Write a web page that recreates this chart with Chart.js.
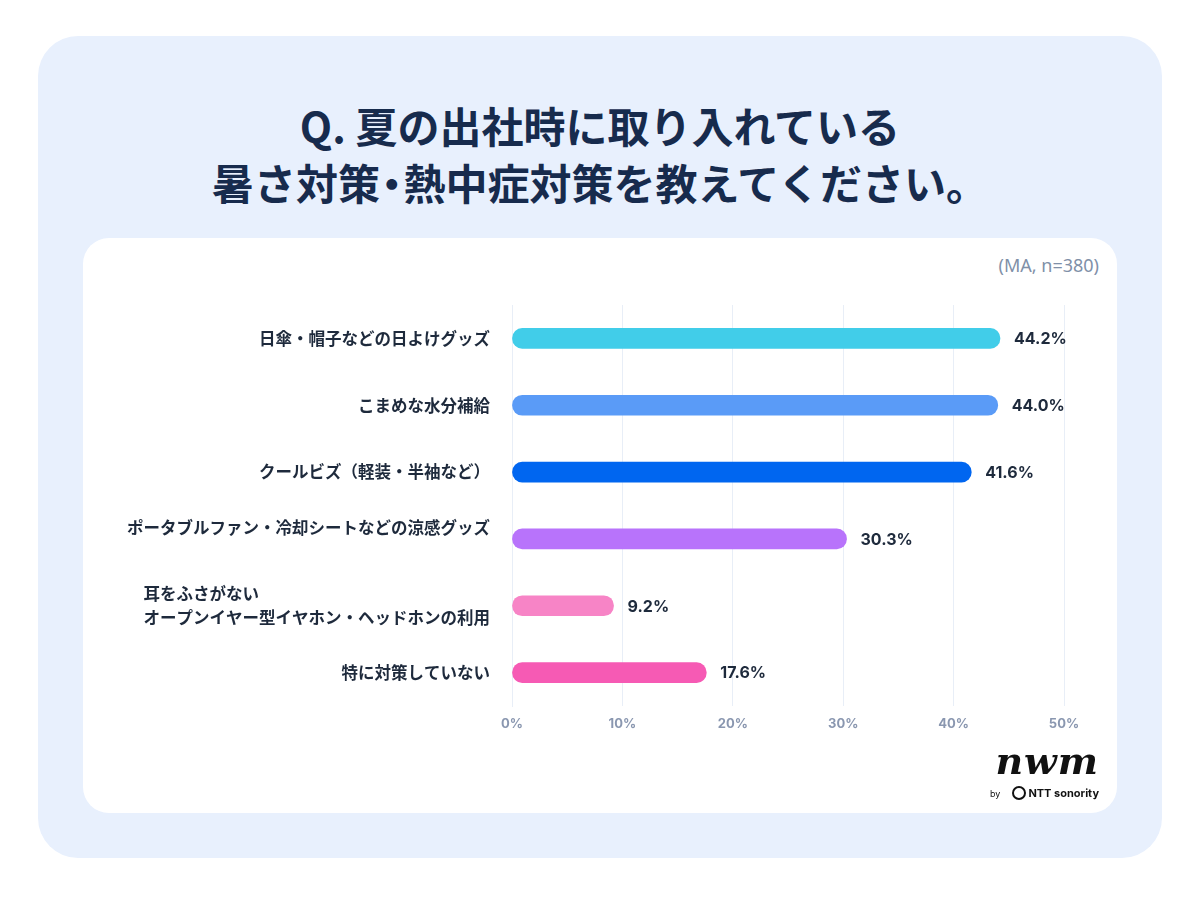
<!DOCTYPE html>
<html lang="ja">
<head>
<meta charset="utf-8">
<script src="https://cdn.jsdelivr.net/npm/chart.js@4"></script>
<style>
  body { margin: 0; width: 1200px; height: 900px; background: #ffffff; font-family: "Noto Sans CJK JP", sans-serif; }
  .outer { position: absolute; left: 38px; top: 36px; width: 1124px; height: 822px; background: #e8f0fd; border-radius: 40px; }
  .title { position: absolute; left: 0; top: 96px; width: 1200px; text-align: center; color: #172b4d; font-weight: 700; font-size: 42px; line-height: 57px; }
  .title .dot { margin: 0 -0.22em; }
  .card { position: absolute; left: 83px; top: 238px; width: 1034px; height: 575px; background: #ffffff; border-radius: 26px; }
  .chart-box { position: absolute; left: 0; top: 0; width: 1034px; height: 575px; }
  .note { position: absolute; right: 18px; top: 15px; font-family: "Noto Sans", sans-serif; font-size: 18px; color: #8090a8; }
  .logo { position: absolute; right: 18px; top: 503px; text-align: right; color: #111; }
  .logo .nwm { font-family: "DejaVu Serif", serif; font-style: italic; font-weight: 700; font-size: 38px; line-height: 40px; letter-spacing: 1px; }
  .logo .by { font-family: "Inter", sans-serif; font-size: 11px; font-weight: 700; margin-top: 5px; }
  .logo .ring { display: inline-block; width: 10px; height: 10px; border: 2px solid #111; border-radius: 50%; vertical-align: -3px; margin: 0 2px 0 12px; }
</style>
</head>
<body>
<div class="outer"></div>
<div class="title">Q. 夏の出社時に取り入れている<br>暑さ対策<span class="dot">・</span>熱中症対策を教えてください。</div>
<div class="card">
  <div class="note">(MA, n=380)</div>
  <div class="chart-box"><canvas id="barChart"></canvas></div>
  <div class="logo">
    <div class="nwm">nwm</div>
    <div class="by"><span style="font-weight:400;font-size:9px">by</span><span class="ring"></span>NTT sonority</div>
  </div>
</div>
<script>
const categories = [
  "日傘・帽子などの日よけグッズ",
  "こまめな水分補給",
  "クールビズ（軽装・半袖など）",
  ["ポータブルファン・冷却シートなどの涼感グッズ", ""],
  ["耳をふさがない　　　　　　　　　　　　　　", "オープンイヤー型イヤホン・ヘッドホンの利用"],
  "特に対策していない"
];
const values = [44.2, 44.0, 41.6, 30.3, 9.2, 17.6];
const barColors = ['#41cde9', '#5a9bf7', '#0066f0', '#b873fb', '#f784c6', '#f65ab4'];
const tickValues = [0, 10, 20, 30, 40, 50];

// percent labels at the end of each bar
const valueLabels = {
  id: 'valueLabels',
  afterDatasetsDraw(chart) {
    const ctx = chart.ctx;
    const meta = chart.getDatasetMeta(0);
    ctx.save();
    ctx.font = 'bold 16px Inter';
    ctx.fillStyle = '#1e2a3c';
    ctx.textBaseline = 'middle';
    meta.data.forEach((bar, i) => {
      ctx.fillText(values[i].toFixed(1) + '%', bar.x + 14, bar.y + 1);
    });
    ctx.restore();
  }
};

const data = {
  labels: categories,
  datasets: [{
    data: values,
    backgroundColor: barColors,
    borderRadius: 10,
    borderSkipped: false,
    barThickness: 20
  }]
};

const config = {
  type: 'bar',
  data: data,
  options: {
    indexAxis: 'y',
    responsive: true,
    maintainAspectRatio: false,
    animation: false,
    layout: { padding: { top: 67, right: 53, bottom: 67, left: 0 } },
    plugins: {
      legend: { display: false },
      tooltip: { enabled: false }
    },
    scales: {
      x: {
        min: tickValues[0],
        max: tickValues[tickValues.length - 1],
        afterBuildTicks: (scale) => { scale.ticks = tickValues.map(v => ({ value: v })); },
        afterFit: (scale) => { scale.height = 40; },
        grid: { color: '#e8eef7', drawTicks: false },
        border: { display: false },
        ticks: {
          padding: 10,
          color: '#8a97b0',
          font: { family: 'Inter', size: 13, weight: 'bold' },
          callback: (v) => v + '%'
        }
      },
      y: {
        afterFit: (scale) => { scale.width = 429; },
        grid: { display: false, drawTicks: false },
        border: { color: '#e8eef7' },
        ticks: {
          padding: 22,
          color: '#1e2a3c',
          font: { family: '"Noto Sans CJK JP"', size: 16.5, weight: 'bold', lineHeight: 1.4 }
        }
      }
    }
  },
  plugins: [valueLabels]
};

var barChart = new Chart(document.getElementById('barChart'), config);
</script>
</body>
</html>
